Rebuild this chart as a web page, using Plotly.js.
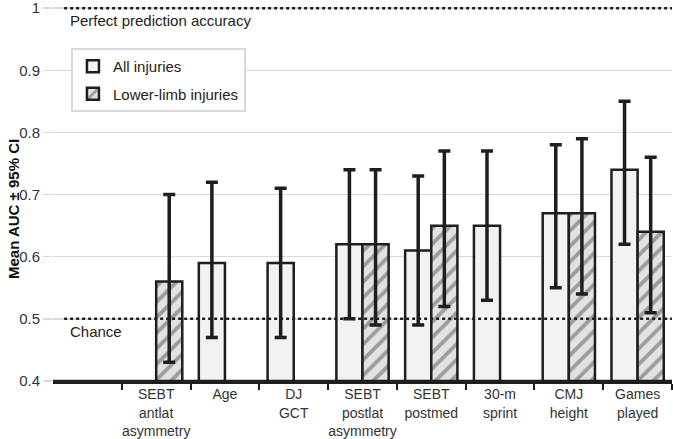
<!DOCTYPE html>
<html>
<head>
<meta charset="utf-8">
<script src="https://cdn.plot.ly/plotly-3.0.1.min.js"></script>
<style>
  html, body { margin: 0; padding: 0; background: #fff; }
  #chart { width: 673px; height: 439px; }
</style>
</head>
<body>
<div id="chart"></div>
<script>
const categories = ['SEBT<br>antlat<br>asymmetry', 'Age', 'DJ<br>GCT', 'SEBT<br>postlat<br>asymmetry',
    'SEBT<br>postmed', '30-m<br>sprint', 'CMJ<br>height', 'Games<br>played'];

// all injuries: mean AUC with 95% CI bounds
const allMean = [null, 0.59, 0.59, 0.62, 0.61, 0.65, 0.67, 0.74];
const allLow  = [null, 0.47, 0.47, 0.50, 0.49, 0.53, 0.55, 0.62];
const allHigh = [null, 0.72, 0.71, 0.74, 0.73, 0.77, 0.78, 0.85];

// lower-limb injuries
const lowerMean = [0.56, null, null, 0.62, 0.65, null, 0.67, 0.64];
const lowerLow  = [0.43, null, null, 0.49, 0.52, null, 0.54, 0.51];
const lowerHigh = [0.70, null, null, 0.74, 0.77, null, 0.79, 0.76];

const yTicks = [0.4, 0.5, 0.6, 0.7, 0.8, 0.9, 1.0];
const yTickText = ['0.4', '0.5', '0.6', '0.7', '0.8', '0.9', '1'];

const upper = (m, h) => m.map((v, i) => v == null ? null : h[i] - v);
const lower = (m, l) => m.map((v, i) => v == null ? null : v - l[i]);

const ink = '#1e1e1e';
const font = 'Liberation Sans, Arial, sans-serif';

const errStyle = { type: 'data', symmetric: false, color: ink, thickness: 3.5, width: 6 };

const traces = [
    {
        type: 'bar', name: 'All injuries', x: categories, y: allMean,
        marker: { color: '#f2f2f2', line: { color: ink, width: 2.5 } },
        error_y: Object.assign({ array: upper(allMean, allHigh), arrayminus: lower(allMean, allLow) }, errStyle),
        legendgroup: 'a'
    },
    {
        type: 'bar', name: 'Lower-limb injuries', x: categories, y: lowerMean,
        marker: {
            color: '#e2e2e2', line: { color: ink, width: 2.5 },
            pattern: { shape: '/', fgcolor: '#9c9c9c', bgcolor: '#e2e2e2', size: 11, solidity: 0.35 }
        },
        error_y: Object.assign({ array: upper(lowerMean, lowerHigh), arrayminus: lower(lowerMean, lowerLow) }, errStyle),
        legendgroup: 'b'
    }
];

const layout = {
    width: 673, height: 439,
    margin: { l: 53, r: 1, t: 1, b: 58 },
    paper_bgcolor: '#fff', plot_bgcolor: '#fff',
    font: { family: font, size: 15, color: '#333' },
    barmode: 'group', bargap: 0.24, bargroupgap: 0,
    showlegend: true,
    legend: {
        x: 0.029, y: 0.876, xanchor: 'left', yanchor: 'top',
        bgcolor: '#fff', bordercolor: '#d9d9d9', borderwidth: 2,
        font: { family: font, size: 15, color: '#222' },
        traceorder: 'grouped', tracegroupgap: 5, itemwidth: 30
    },
    xaxis: {
        type: 'category', range: [-1.5, 7.5], tickangle: 0,
        showline: true, linecolor: ink, linewidth: 2.5,
        ticks: 'outside', tickson: 'boundaries', ticklen: 6, tickwidth: 2, tickcolor: ink,
        showgrid: false, tickfont: { size: 14, color: '#333' }, fixedrange: true,
        ticklabelstandoff: -1
    },
    yaxis: {
        range: [0.4, 1.0115], tickvals: yTicks, ticktext: yTickText,
        showgrid: true, gridcolor: '#dadada', gridwidth: 1.5, zeroline: false,
        showline: false, ticks: 'outside', ticklen: 9, tickcolor: '#dadada', tickwidth: 1.5,
        tickfont: { size: 15, color: '#333' }, ticklabeloverflow: 'allow'
    },
    shapes: [
        { type: 'line', xref: 'paper', yref: 'y', x0: 0.018, x1: 1, y0: 1.0, y1: 1.0,
          line: { color: ink, width: 2.5, dash: 'dot' } },
        { type: 'line', xref: 'paper', yref: 'y', x0: 0.018, x1: 1, y0: 0.5, y1: 0.5,
          line: { color: ink, width: 2.5, dash: 'dot' } },
        { type: 'line', xref: 'paper', yref: 'y', x0: 0, x1: 1, y0: 0.4, y1: 0.4,
          line: { color: ink, width: 2.5 } }
    ],
    annotations: [
        { text: 'Perfect prediction accuracy', xref: 'paper', yref: 'y', x: 0.024, y: 1.0,
          xanchor: 'left', yanchor: 'top', yshift: -2, showarrow: false,
          font: { family: font, size: 15, color: '#222' } },
        { text: 'Chance', xref: 'paper', yref: 'y', x: 0.024, y: 0.5,
          xanchor: 'left', yanchor: 'top', yshift: -2, showarrow: false,
          font: { family: font, size: 15, color: '#222' } },
        { text: '<b>Mean AUC \u00b1 95% CI</b>', xref: 'paper', yref: 'paper', x: -0.0646, y: 0.4526,
          textangle: -90, showarrow: false, xanchor: 'center', yanchor: 'middle',
          font: { family: font, size: 15, color: '#111' } }
    ]
};

Plotly.newPlot('chart', traces, layout, { displayModeBar: false, staticPlot: true });
</script>
</body>
</html>
